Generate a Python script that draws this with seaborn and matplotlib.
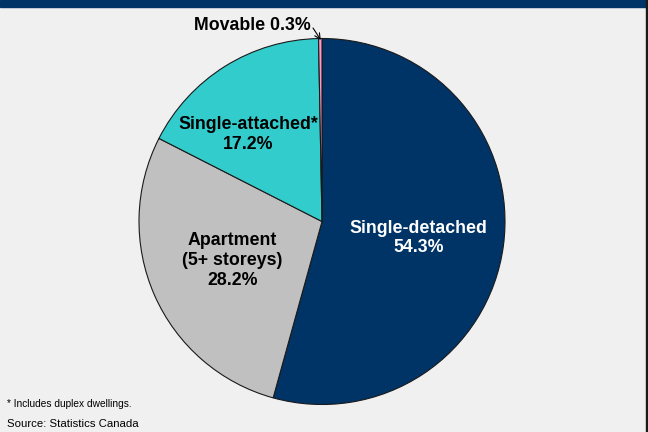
import matplotlib
matplotlib.use("Agg")
import matplotlib.pyplot as plt
import seaborn as sns

categories = ["Single-detached", "Apartment\n(5+ storeys)", "Single-attached*", "Movable"]
shares = [54.3, 28.2, 17.2, 0.3]
colors = ["#003366", "#C0C0C0", "#33CCCC", "#FF99CC"]
label_colors = ["white", "black", "black", "black"]
footnote = "* Includes duplex dwellings."
source = "Source: Statistics Canada"

sns.set_style("white")
plt.rcParams["font.family"] = ["Liberation Sans", "DejaVu Sans"]

W, H = 648, 432
fig = plt.figure(figsize=(6.48, 4.32), dpi=100, facecolor="#F0F0F0")
ax = fig.add_axes([0, 0, 1, 1])
ax.set_facecolor("#F0F0F0")

cx, cy, r = 322, 221.5, 183
# with inverted y axis, counterclock=True renders clockwise visually
wedges, _ = ax.pie(shares, colors=colors, startangle=-90, counterclock=True,
                   center=(cx, cy), radius=r, frame=True,
                   wedgeprops=dict(edgecolor="#1a1a1a", linewidth=0.8))
ax.set_xlim(0, W)
ax.set_ylim(H, 0)
ax.set_aspect("equal")
ax.axis("off")

# header bar and right border
fig.patches.append(plt.Rectangle((0, 1 - 7 / H), 1, 7 / H, transform=fig.transFigure,
                                 color="#003366", zorder=0))
fig.patches.append(plt.Rectangle((1 - 2.5 / W, 0), 2.5 / W, 1, transform=fig.transFigure,
                                 color="#1a1a1a", zorder=0))

fs = 12.8
ls = 1.22
ax.text(418.5, 238, f"{categories[0]}\n{shares[0]}%", ha="center", va="center",
        color=label_colors[0], fontsize=fs, fontweight="bold", linespacing=ls)
ax.text(232.5, 260.5, f"{categories[1]}\n{shares[1]}%", ha="center", va="center",
        color=label_colors[1], fontsize=fs, fontweight="bold", linespacing=ls)
ax.text(248, 134.5, f"{categories[2]}\n{shares[2]}%", ha="center", va="center",
        color=label_colors[2], fontsize=fs, fontweight="bold", linespacing=ls)
ax.text(311, 26, f"{categories[3]} {shares[3]}%", ha="right", va="center",
        fontsize=fs, fontweight="bold", color="black")
ax.annotate("", xy=(320.8, 40), xytext=(313, 28),
            arrowprops=dict(arrowstyle="->", color="black", lw=0.8,
                            shrinkA=0, shrinkB=0))

ax.text(7, 404, footnote, ha="left", va="center", fontsize=7.3, color="black")
ax.text(7, 424, source, ha="left", va="center", fontsize=8.2, color="black")

fig.savefig("out.png", dpi=100, facecolor=fig.get_facecolor())
